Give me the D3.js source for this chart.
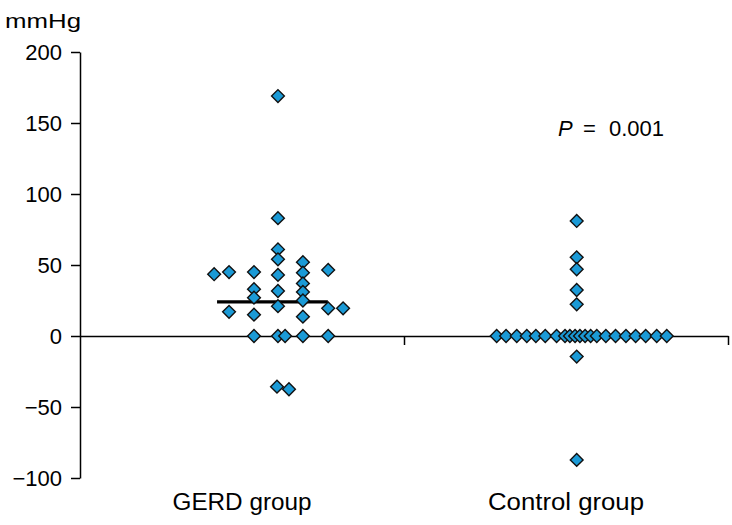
<!DOCTYPE html>
<html>
<head>
<meta charset="utf-8">
<script src="https://cdn.jsdelivr.net/npm/d3@7"></script>
<style>
  html, body { margin: 0; padding: 0; background: #fff; }
  svg { display: block; font-family: "Liberation Sans", Arial, sans-serif; }
</style>
</head>
<body>
<svg id="chart" width="732" height="525"></svg>
<script>
// ---- data ----
const groups = ["GERD group", "Control group"];
const yTicks = [-100, -50, 0, 50, 100, 150, 200];
const yUnit = "mmHg";
const pText = "0.001";

// GERD group: values (mmHg) and horizontal jitter positions on the category axis (0..2)
const gerdValues = [169, 83, 61, 54, 52, 43.5, 45, 45, 43, 44.6, 46.5, 33, 31.7, 37, 31, 27, 25, 21, 17, 15, 13.6, 19.5, 19.5, 0, 0, 0, 0, 0, -35.7, -37.5];
const gerdX      = [0.611, 0.611, 0.611, 0.611, 0.688, 0.414, 0.460, 0.537, 0.611, 0.688, 0.766, 0.537, 0.611, 0.688, 0.688, 0.537, 0.688, 0.611, 0.460, 0.537, 0.688, 0.766, 0.812, 0.537, 0.611, 0.633, 0.688, 0.766, 0.608, 0.645];
const gerdMean = 24;
const gerdMeanSpan = [0.423, 0.765];

// Control group
const controlValues = [81, 55.4, 47, 32.4, 22.3,
  0, 0, 0, 0, 0, 0, 0, 0, 0, 0, 0, 0, 0, 0, 0, 0, 0, 0, 0, 0, 0,
  -14.5, -87.3];
const controlX = [1.533, 1.533, 1.533, 1.533, 1.533,
  1.286, 1.315, 1.348, 1.379, 1.407, 1.436, 1.471, 1.497, 1.512, 1.528, 1.543, 1.559, 1.576, 1.595, 1.623, 1.653, 1.685, 1.715, 1.746, 1.780, 1.811,
  1.533, 1.533];

// ---- chart ----
const svg = d3.select("#chart");
const mLeft = 80, mRight = 728, mTop = 52, mBottom = 478;

const y = d3.scaleLinear().domain([-100, 200]).range([mBottom, mTop]);
const x = d3.scaleLinear().domain([0, 2]).range([mLeft, mRight]);

// y axis
const yAxis = svg.append("g")
  .attr("transform", `translate(${mLeft},0)`)
  .call(d3.axisLeft(y).tickValues(yTicks).tickSize(9).tickSizeOuter(0).tickFormat(d => d < 0 ? "\u2212" + Math.abs(d) : d));
yAxis.select(".domain").attr("stroke", "#000").attr("stroke-width", 1.5);
yAxis.selectAll(".tick line").attr("stroke", "#000").attr("stroke-width", 1.5);
yAxis.selectAll(".tick text")
  .attr("x", -18)
  .attr("dy", "0.36em")
  .attr("fill", "#000")
  .style("font-size", "22px");

// x axis at zero
const xAxis = svg.append("g")
  .attr("transform", `translate(0,${y(0)})`)
  .call(d3.axisBottom(x).tickValues([1, 2]).tickSize(9).tickSizeOuter(0).tickFormat(""));
xAxis.select(".domain").attr("stroke", "#000").attr("stroke-width", 1.5);
xAxis.selectAll(".tick line").attr("stroke", "#000").attr("stroke-width", 1.5);

// category labels
const labelWidths = [139, 156];
svg.append("g").selectAll("text")
  .data(groups)
  .join("text")
  .attr("x", (d, i) => x(i + 0.5))
  .attr("y", 510)
  .attr("text-anchor", "middle")
  .attr("textLength", (d, i) => labelWidths[i])
  .attr("lengthAdjust", "spacingAndGlyphs")
  .style("font-size", "23px")
  .attr("fill", "#000")
  .text(d => d);

// unit label
svg.append("text")
  .attr("x", 5).attr("y", 28)
  .attr("textLength", 76)
  .attr("lengthAdjust", "spacingAndGlyphs")
  .style("font-size", "21px")
  .attr("fill", "#000")
  .text(yUnit);

// P value
const pt = svg.append("text")
  .attr("y", 136)
  .style("font-size", "22px")
  .attr("fill", "#000");
pt.append("tspan").attr("x", 558).style("font-style", "italic").text("P");
pt.append("tspan").attr("x", 583).text("=");
pt.append("tspan").attr("x", 609).text(pText);

// mean line
svg.append("line")
  .attr("x1", x(gerdMeanSpan[0])).attr("x2", x(gerdMeanSpan[1]))
  .attr("y1", y(gerdMean)).attr("y2", y(gerdMean))
  .attr("stroke", "#000").attr("stroke-width", 3.2);

// points
const diamond = "M0,-6.4L6.4,0L0,6.4L-6.4,0Z";
const pts = gerdValues.map((v, i) => ({ v, x: gerdX[i] }))
  .concat(controlValues.map((v, i) => ({ v, x: controlX[i] })));

svg.append("g").selectAll("path")
  .data(pts)
  .join("path")
  .attr("d", diamond)
  .attr("transform", d => `translate(${x(d.x)},${y(d.v)})`)
  .attr("fill", "#1b9ad6")
  .attr("stroke", "#111")
  .attr("stroke-width", 1.4);
</script>
</body>
</html>
